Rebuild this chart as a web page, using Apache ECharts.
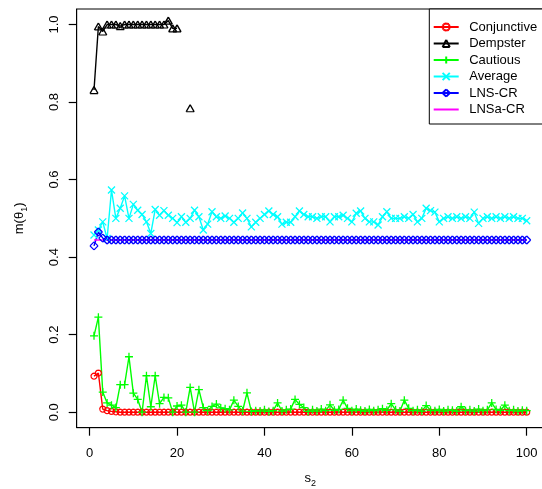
<!DOCTYPE html>
<html><head><meta charset="utf-8">
<script src="https://cdn.jsdelivr.net/npm/echarts@6/dist/echarts.min.js"></script>
<style>html,body{margin:0;padding:0;background:#fff}#c{width:542px;height:489px}</style>
</head><body><div id="c"></div>
<script>
const s2 = [1,2,3,4,5,6,7,8,9,10,11,12,13,14,15,16,17,18,19,20,
21,22,23,24,25,26,27,28,29,30,31,32,33,34,35,36,37,38,39,40,
41,42,43,44,45,46,47,48,49,50,51,52,53,54,55,56,57,58,59,60,
61,62,63,64,65,66,67,68,69,70,71,72,73,74,75,76,77,78,79,80,
81,82,83,84,85,86,87,88,89,90,91,92,93,94,95,96,97,98,99,100];

const conjunctive = [
0.093,0.101,0.008,0.004,0.002,0.001,0,0,0,0,
0,0,0,0,0,0,0,0,0,0,
0,0,0,0,0,0,0,0,0,0,
0,0,0,0,0,0,0,0,0,0,
0,0,0,0,0,0,0,0,0,0,
0,0,0,0,0,0,0,0,0,0,
0,0,0,0,0,0,0,0,0,0,
0,0,0,0,0,0,0,0,0,0,
0,0,0,0,0,0,0,0,0,0,
0,0,0,0,0,0,0,0,0,0];

const dempster = [
0.831,0.995,0.982,1.000,1.000,1.000,0.996,1.000,1.000,1.000,
1.000,1.000,1.000,1.000,1.000,1.000,1.000,1.010,0.990,0.990,
null,null,0.784,null,null,null,null,null,null,null,
null,null,null,null,null,null,null,null,null,null,
null,null,null,null,null,null,null,null,null,null,
null,null,null,null,null,null,null,null,null,null,
null,null,null,null,null,null,null,null,null,null,
null,null,null,null,null,null,null,null,null,null,
null,null,null,null,null,null,null,null,null,null,
null,null,null,null,null,null,null,null,null,null];

const cautious = [
0.197,0.245,0.052,0.024,0.018,0.012,0.071,0.071,0.143,0.049,
0.033,0.000,0.094,0.014,0.094,0.022,0.038,0.037,0.000,0.016,
0.018,0.000,0.064,0.000,0.058,0.012,0.004,0.015,0.021,0.011,
0.009,0.006,0.031,0.015,0.003,0.050,0.002,0.004,0.003,0.006,
0.002,0.004,0.024,0.003,0.006,0.008,0.033,0.020,0.012,0.002,
0.006,0.003,0.008,0.004,0.019,0.005,0.007,0.031,0.010,0.004,
0.008,0.005,0.003,0.007,0.004,0.006,0.009,0.005,0.022,0.006,
0.003,0.031,0.010,0.004,0.006,0.003,0.017,0.005,0.004,0.007,
0.003,0.006,0.005,0.003,0.014,0.004,0.006,0.003,0.008,0.004,
0.006,0.024,0.007,0.005,0.018,0.004,0.006,0.003,0.005,0.004];

const average = [
0.457,0.470,0.491,0.448,0.573,0.500,0.526,0.558,0.500,0.536,
0.521,0.510,0.491,0.461,0.523,0.508,0.520,0.508,0.500,0.489,
0.504,0.490,0.500,0.521,0.504,0.470,0.485,0.517,0.504,0.500,
0.506,0.500,0.490,0.500,0.514,0.500,0.478,0.490,0.500,0.510,
0.519,0.510,0.504,0.485,0.490,0.490,0.504,0.519,0.510,0.504,
0.504,0.500,0.504,0.504,0.491,0.504,0.504,0.508,0.500,0.491,
0.513,0.519,0.500,0.491,0.491,0.483,0.504,0.517,0.500,0.500,
0.500,0.504,0.500,0.510,0.491,0.500,0.526,0.520,0.516,0.491,
0.500,0.504,0.500,0.504,0.500,0.504,0.500,0.516,0.487,0.500,
0.504,0.500,0.504,0.500,0.504,0.500,0.504,0.500,0.500,0.494];

const lnsCR = [
0.429,0.465,0.449,0.444,0.444,0.444,0.444,0.444,0.444,0.444,
0.444,0.444,0.444,0.444,0.444,0.444,0.444,0.444,0.444,0.444,
0.444,0.444,0.444,0.444,0.444,0.444,0.444,0.444,0.444,0.444,
0.444,0.444,0.444,0.444,0.444,0.444,0.444,0.444,0.444,0.444,
0.444,0.444,0.444,0.444,0.444,0.444,0.444,0.444,0.444,0.444,
0.444,0.444,0.444,0.444,0.444,0.444,0.444,0.444,0.444,0.444,
0.444,0.444,0.444,0.444,0.444,0.444,0.444,0.444,0.444,0.444,
0.444,0.444,0.444,0.444,0.444,0.444,0.444,0.444,0.444,0.444,
0.444,0.444,0.444,0.444,0.444,0.444,0.444,0.444,0.444,0.444,
0.444,0.444,0.444,0.444,0.444,0.444,0.444,0.444,0.444,0.444];

const lnsaCR = [
0.444,0.444,0.444,0.444,0.444,0.444,0.444,0.444,0.444,0.444,
0.444,0.444,0.444,0.444,0.444,0.444,0.444,0.444,0.444,0.444,
0.444,0.444,0.444,0.444,0.444,0.444,0.444,0.444,0.444,0.444,
0.444,0.444,0.444,0.444,0.444,0.444,0.444,0.444,0.444,0.444,
0.444,0.444,0.444,0.444,0.444,0.444,0.444,0.444,0.444,0.444,
0.444,0.444,0.444,0.444,0.444,0.444,0.444,0.444,0.444,0.444,
0.444,0.444,0.444,0.444,0.444,0.444,0.444,0.444,0.444,0.444,
0.444,0.444,0.444,0.444,0.444,0.444,0.444,0.444,0.444,0.444,
0.444,0.444,0.444,0.444,0.444,0.444,0.444,0.444,0.444,0.444,
0.444,0.444,0.444,0.444,0.444,0.444,0.444,0.444,0.444,0.444];

const seriesNames = ['Conjunctive','Dempster','Cautious','Average','LNS-CR','LNSa-CR'];
const xTicks = [0,20,40,60,80,100];
const yTicks = [0,0.2,0.4,0.6,0.8,1.0];

// open outline symbols built from separate stroke-only segments (no filled area)
function ringPath(n){
  let d='';
  for(let i=0;i<n;i++){
    const a1=2*Math.PI*i/n, a2=2*Math.PI*(i+1)/n;
    d+='M'+(5+5*Math.cos(a1)).toFixed(3)+','+(5+5*Math.sin(a1)).toFixed(3)+
       'L'+(5+5*Math.cos(a2)).toFixed(3)+','+(5+5*Math.sin(a2)).toFixed(3);
  }
  return 'path://'+d;
}
const SYM_CIRCLE = ringPath(16);
const SYM_TRI = 'path://M5,0L10,8.66M10,8.66L0,8.66M0,8.66L5,0';
const SYM_PLUS = 'path://M5,0L5,10M0,5L10,5';
const SYM_CROSS = 'path://M0,0L10,10M10,0L0,10';
const SYM_DIAMOND = 'path://M5,0L10,5M10,5L5,10M5,10L0,5M0,5L5,0';

function pairs(vals){ return s2.map((x,i)=>[x, vals[i]]); }

function mk(name, vals, color, symbol, size){
  return {
    name: name, type:'line', data: pairs(vals),
    color: color,
    symbol: symbol, symbolSize: size, showSymbol: symbol !== 'none',
    connectNulls:false,
    lineStyle:{color:color, width:1.4},
    itemStyle:{color:color, borderColor:color, borderWidth:1.3},
    emphasis:{disabled:true},
    animation:false
  };
}

const chart = echarts.init(document.getElementById('c'), null, {renderer:'canvas'});
const FONT = 'Liberation Sans';
chart.setOption({
  animation:false,
  backgroundColor:'#fff',
  textStyle:{fontFamily:FONT, color:'#000'},
  grid:{left:76.7, top:9, width:467.3, height:418.7, outerBoundsMode:'none',
    show:true, borderColor:'#000', borderWidth:1},
  legend:{
    left:429.3, top:9, orient:'vertical',
    data: seriesNames.map(n => n === 'LNSa-CR' ? {name:n, itemStyle:{opacity:0}} : {name:n}),
    itemWidth:25, itemHeight:9, itemGap:0.5,
    padding:[10,14,6.5,3.4],
    borderColor:'#000', borderWidth:1, backgroundColor:'#fff',
    textStyle:{fontFamily:FONT, fontSize:13, color:'#000', lineHeight:16, padding:[0,0,0,5.5]},
    selectedMode:false
  },
  xAxis:{
    type:'value', min:-2.96, max:103.96,
    splitLine:{show:false},
    axisLine:{show:true, onZero:false, lineStyle:{color:'#000', width:1}},
    axisTick:{show:true, customValues:xTicks, length:8, lineStyle:{color:'#000', width:1.2}},
    axisLabel:{customValues:xTicks, fontSize:13, color:'#000', margin:4, padding:[15,0,0,0], fontFamily:FONT},
    name:'{b|s}{s|2}', nameLocation:'middle', nameGap:42,
    nameTextStyle:{fontFamily:FONT, color:'#000', rich:{
      b:{fontSize:13, lineHeight:18, fontFamily:FONT, color:'#000', verticalAlign:'middle'},
      s:{fontSize:9, lineHeight:10, fontFamily:FONT, color:'#000', verticalAlign:'bottom'}}}
  },
  yAxis:{
    type:'value', min:-0.04, max:1.04,
    splitLine:{show:false},
    axisLine:{show:true, onZero:false, lineStyle:{color:'#000', width:1}},
    axisTick:{show:true, customValues:yTicks, length:8, lineStyle:{color:'#000', width:1.2}},
    axisLabel:{customValues:yTicks, fontSize:13, color:'#000', margin:4, padding:[0,0,12,0], rotate:90, fontFamily:FONT,
      formatter:v=>v.toFixed(1)},
    name:'{b|m(θ}{s|1}{b|)}', nameLocation:'middle', nameGap:48,
    nameTextStyle:{fontFamily:FONT, color:'#000', rich:{
      b:{fontSize:13, lineHeight:18, fontFamily:FONT, color:'#000', verticalAlign:'middle'},
      s:{fontSize:9, lineHeight:10, fontFamily:FONT, color:'#000', verticalAlign:'bottom'}}}
  },
  series:[
    mk(seriesNames[0], conjunctive, '#FF0000', SYM_CIRCLE, 6),
    mk(seriesNames[1], dempster, '#000000', SYM_TRI, [8,7]),
    mk(seriesNames[2], cautious, '#00FF00', SYM_PLUS, 8),
    mk(seriesNames[3], average, '#00FFFF', SYM_CROSS, 7),
    mk(seriesNames[4], lnsCR, '#0000FF', SYM_DIAMOND, 8),
    mk(seriesNames[5], lnsaCR, '#FF00FF', 'none', 0)
  ]
});
</script>
</body></html>
